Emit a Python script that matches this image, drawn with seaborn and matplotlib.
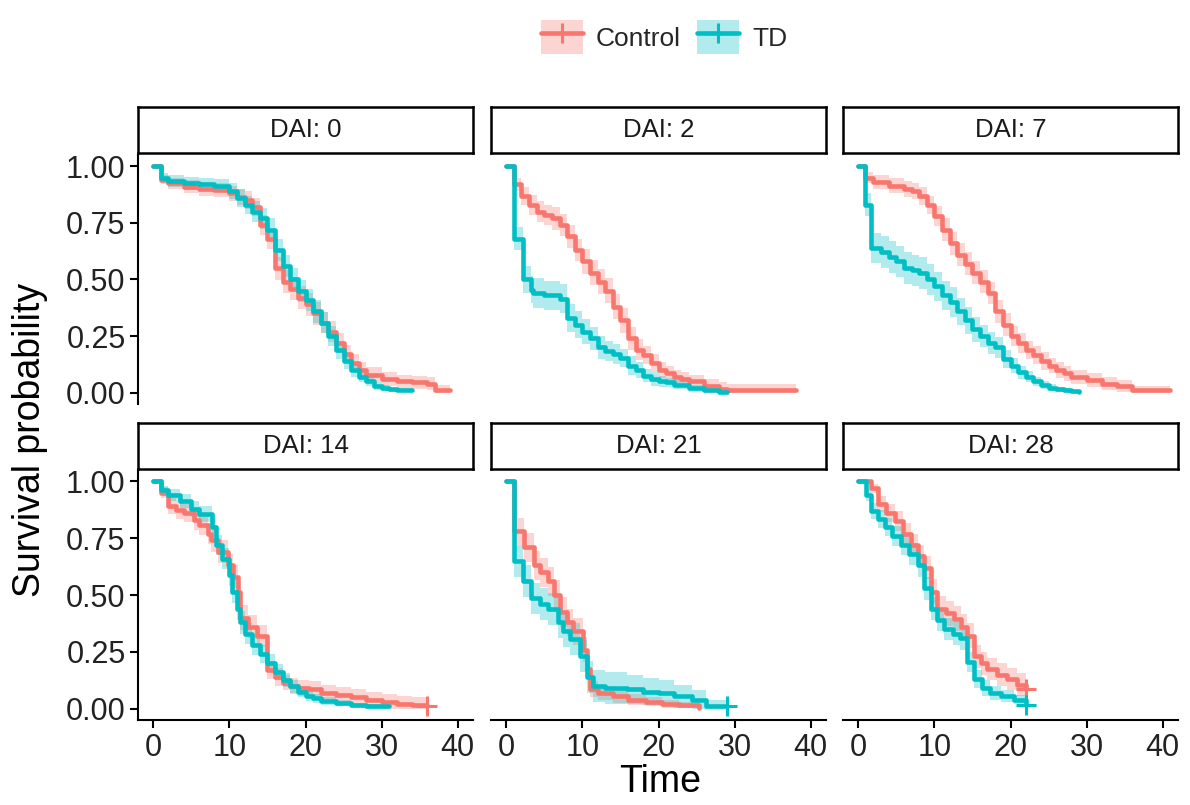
import numpy as np
import pandas as pd
import seaborn as sns
import matplotlib.pyplot as plt
from matplotlib.patches import Patch
from matplotlib.lines import Line2D
from matplotlib.legend_handler import HandlerTuple

sns.set_theme(style='white')
plt.rcParams['font.family'] = ['Liberation Sans', 'DejaVu Sans']

dai_levels = [0, 2, 7, 14, 21, 28]
groups = ['Control', 'TD']
colors = {'Control': '#F8766D', 'TD': '#00BFC4'}

# step curves: time, survival, half width of the band
control_time = {
    0: [0, 1, 2, 4, 6, 8, 10, 11, 12, 13, 14, 15, 16, 17, 18, 19, 20, 21, 22, 23, 24, 25, 26, 27, 28, 30, 32, 34, 36, 37, 39],
    2: [0, 1, 2, 3, 4, 5, 6, 7, 8, 9, 10, 11, 12, 13, 14, 15, 16, 17, 18, 19, 20, 21, 22, 23, 24, 26, 28, 29, 38],
    7: [0, 0.9, 2, 4, 6, 7, 8, 9, 10, 11, 12, 13, 14, 15, 16, 17, 18, 19, 20, 21, 22, 23, 24, 25, 26, 27, 28, 30, 32, 34, 36, 41],
    14: [0, 1, 2, 3, 4, 5.4, 6, 7.2, 7.6, 8.5, 9.8, 10.5, 11.1, 11.4, 12.5, 13.6, 14.9, 16, 17, 18, 19, 20.5, 22, 24, 26, 28, 30, 32, 34, 36],
    21: [0, 1, 2.3, 3.6, 4.5, 5.5, 6.3, 7.1, 8, 8.8, 10.1, 10.6, 11, 12, 14, 16, 18.4, 20.5, 22.7, 25.3],
    28: [0, 1.7, 2.6, 3.7, 4.8, 5.9, 6.9, 7.8, 8.7, 9.5, 10.4, 11.5, 12.6, 13.5, 14.3, 15.2, 16.1, 16.9, 18.2, 19.5, 20.8, 22.1],
}
control_surv = {
    0: [1.0, 0.94, 0.925, 0.91, 0.90, 0.895, 0.88, 0.865, 0.85, 0.82, 0.74, 0.68, 0.55, 0.49, 0.46, 0.42, 0.39, 0.35, 0.31, 0.27, 0.22, 0.17, 0.13, 0.10, 0.08, 0.06, 0.05, 0.045, 0.04, 0.013, 0.013],
    2: [1.0, 0.92, 0.87, 0.83, 0.80, 0.785, 0.77, 0.74, 0.69, 0.63, 0.58, 0.53, 0.49, 0.45, 0.38, 0.32, 0.24, 0.19, 0.165, 0.13, 0.10, 0.085, 0.07, 0.06, 0.05, 0.03, 0.015, 0.01, 0.01],
    7: [1.0, 0.95, 0.93, 0.915, 0.90, 0.89, 0.87, 0.83, 0.78, 0.72, 0.66, 0.61, 0.57, 0.53, 0.49, 0.44, 0.36, 0.30, 0.25, 0.22, 0.19, 0.165, 0.14, 0.12, 0.10, 0.085, 0.07, 0.055, 0.04, 0.03, 0.01, 0.01],
    14: [1.0, 0.95, 0.89, 0.875, 0.86, 0.83, 0.81, 0.77, 0.74, 0.69, 0.63, 0.58, 0.515, 0.40, 0.36, 0.32, 0.17, 0.14, 0.115, 0.10, 0.09, 0.085, 0.07, 0.06, 0.05, 0.04, 0.03, 0.02, 0.015, 0.01],
    21: [1.0, 0.78, 0.71, 0.63, 0.60, 0.56, 0.50, 0.425, 0.38, 0.34, 0.26, 0.175, 0.085, 0.07, 0.055, 0.04, 0.03, 0.022, 0.016, 0.005],
    28: [1.0, 0.97, 0.90, 0.86, 0.825, 0.77, 0.72, 0.67, 0.62, 0.515, 0.44, 0.42, 0.395, 0.36, 0.32, 0.23, 0.20, 0.175, 0.15, 0.13, 0.105, 0.085],
}
control_band = {
    0: [0, 0.02, 0.025, 0.03, 0.03, 0.03, 0.035, 0.035, 0.04, 0.04, 0.045, 0.045, 0.05, 0.05, 0.05, 0.05, 0.05, 0.05, 0.045, 0.045, 0.045, 0.04, 0.04, 0.035, 0.035, 0.03, 0.03, 0.03, 0.03, 0.02, 0.02],
    2: [0, 0.03, 0.04, 0.045, 0.045, 0.045, 0.05, 0.05, 0.05, 0.05, 0.055, 0.055, 0.055, 0.055, 0.055, 0.055, 0.05, 0.045, 0.04, 0.04, 0.035, 0.035, 0.03, 0.03, 0.03, 0.03, 0.03, 0.03, 0.03],
    7: [0, 0.025, 0.03, 0.035, 0.035, 0.035, 0.04, 0.04, 0.045, 0.05, 0.05, 0.05, 0.05, 0.05, 0.05, 0.05, 0.05, 0.05, 0.045, 0.045, 0.04, 0.04, 0.04, 0.035, 0.035, 0.035, 0.03, 0.03, 0.03, 0.025, 0.02, 0.02],
    14: [0, 0.025, 0.035, 0.04, 0.04, 0.045, 0.045, 0.045, 0.05, 0.05, 0.05, 0.05, 0.055, 0.055, 0.05, 0.05, 0.04, 0.04, 0.035, 0.035, 0.035, 0.035, 0.035, 0.035, 0.035, 0.035, 0.035, 0.035, 0.035, 0.035],
    21: [0, 0.06, 0.065, 0.065, 0.065, 0.065, 0.065, 0.065, 0.06, 0.06, 0.055, 0.05, 0.035, 0.03, 0.03, 0.025, 0.02, 0.018, 0.015, 0.01],
    28: [0, 0.02, 0.035, 0.04, 0.045, 0.045, 0.05, 0.05, 0.05, 0.055, 0.055, 0.055, 0.055, 0.055, 0.055, 0.05, 0.05, 0.05, 0.05, 0.05, 0.05, 0.05],
}

td_time = {
    0: [0, 1, 2, 4, 6, 8, 10, 11, 12, 13, 14, 15, 16, 17, 18, 19, 20, 21, 22, 23, 24, 25, 26, 27, 28, 29, 30, 31, 32, 34],
    2: [0, 1, 2.2, 3.2, 3.5, 5, 7, 8, 9, 10, 11, 12, 13, 14, 15, 16, 17, 18, 19, 20, 21, 22, 24, 26, 28, 29],
    7: [0, 0.9, 1.7, 3, 4, 5, 6, 7, 8, 9, 10, 11, 12, 13, 14, 15, 16, 17, 18, 19, 20, 21, 22, 23, 24, 25, 26, 27, 28, 29],
    14: [0, 1, 2, 3.5, 5, 6, 7.7, 8.2, 9, 10, 10.4, 11, 11.4, 12, 13, 14, 15, 16, 17, 18, 19, 20, 21, 22, 24, 26, 28, 31],
    21: [0, 1, 2.2, 3.2, 4.5, 5.5, 6.8, 7.5, 8.4, 9.7, 10.6, 11.4, 13, 15.8, 18, 20.1, 22, 24.4, 26.2, 29],
    28: [0, 1, 1.7, 2.6, 3.5, 4.5, 5.6, 6.7, 7.8, 8.7, 9.5, 10.4, 11.3, 12.4, 13.4, 14.3, 15.2, 16.2, 17.3, 18.8, 20.4, 22.1],
}
td_surv = {
    0: [1.0, 0.95, 0.935, 0.925, 0.92, 0.915, 0.89, 0.86, 0.83, 0.80, 0.77, 0.72, 0.63, 0.56, 0.50, 0.45, 0.41, 0.36, 0.31, 0.25, 0.19, 0.14, 0.10, 0.07, 0.05, 0.03, 0.02, 0.015, 0.012, 0.01],
    2: [1.0, 0.68, 0.50, 0.455, 0.44, 0.43, 0.415, 0.33, 0.30, 0.27, 0.24, 0.20, 0.185, 0.17, 0.155, 0.12, 0.10, 0.075, 0.06, 0.05, 0.045, 0.035, 0.02, 0.012, 0.005, 0.005],
    7: [1.0, 0.83, 0.64, 0.62, 0.60, 0.58, 0.55, 0.54, 0.53, 0.50, 0.47, 0.43, 0.40, 0.36, 0.32, 0.28, 0.25, 0.22, 0.20, 0.15, 0.12, 0.09, 0.07, 0.05, 0.035, 0.022, 0.015, 0.01, 0.006, 0.005],
    14: [1.0, 0.96, 0.94, 0.915, 0.88, 0.855, 0.80, 0.72, 0.66, 0.59, 0.515, 0.44, 0.38, 0.33, 0.28, 0.24, 0.20, 0.16, 0.125, 0.098, 0.075, 0.055, 0.045, 0.035, 0.025, 0.015, 0.01, 0.01],
    21: [1.0, 0.65, 0.56, 0.485, 0.46, 0.44, 0.38, 0.34, 0.305, 0.23, 0.14, 0.098, 0.09, 0.085, 0.075, 0.07, 0.055, 0.04, 0.01, 0.01],
    28: [1.0, 0.94, 0.87, 0.835, 0.80, 0.76, 0.72, 0.68, 0.63, 0.53, 0.44, 0.39, 0.35, 0.33, 0.31, 0.205, 0.13, 0.09, 0.07, 0.055, 0.04, 0.018],
}
td_band = {
    0: [0, 0.02, 0.025, 0.03, 0.03, 0.03, 0.035, 0.04, 0.04, 0.045, 0.045, 0.05, 0.05, 0.05, 0.05, 0.05, 0.05, 0.05, 0.045, 0.045, 0.04, 0.035, 0.03, 0.025, 0.02, 0.017, 0.013, 0.01, 0.01, 0.01],
    2: [0, 0.05, 0.06, 0.06, 0.065, 0.065, 0.065, 0.06, 0.06, 0.055, 0.05, 0.05, 0.045, 0.045, 0.04, 0.04, 0.035, 0.03, 0.03, 0.025, 0.02, 0.02, 0.015, 0.01, 0.008, 0.008],
    7: [0, 0.05, 0.065, 0.07, 0.07, 0.07, 0.07, 0.07, 0.07, 0.07, 0.065, 0.065, 0.065, 0.06, 0.06, 0.055, 0.05, 0.05, 0.045, 0.04, 0.035, 0.03, 0.025, 0.02, 0.018, 0.015, 0.012, 0.01, 0.008, 0.008],
    14: [0, 0.02, 0.025, 0.03, 0.035, 0.035, 0.04, 0.045, 0.045, 0.05, 0.05, 0.05, 0.05, 0.045, 0.045, 0.04, 0.04, 0.035, 0.03, 0.03, 0.025, 0.02, 0.02, 0.018, 0.015, 0.012, 0.01, 0.01],
    21: [0, 0.07, 0.07, 0.07, 0.07, 0.07, 0.07, 0.07, 0.07, 0.07, 0.07, 0.07, 0.07, 0.065, 0.06, 0.055, 0.05, 0.04, 0.03, 0.03],
    28: [0, 0.025, 0.035, 0.04, 0.04, 0.045, 0.045, 0.05, 0.05, 0.05, 0.05, 0.05, 0.05, 0.05, 0.05, 0.045, 0.04, 0.035, 0.03, 0.025, 0.02, 0.015],
}

# panels where the last time carries a censor "+"
control_censor = [14, 28]
td_censor = [21, 28]

curves = {
    'Control': (control_time, control_surv, control_band, control_censor),
    'TD': (td_time, td_surv, td_band, td_censor),
}

rows = []
for g in groups:
    t_d, s_d, b_d, _ = curves[g]
    for d in dai_levels:
        for t, s, b in zip(t_d[d], s_d[d], b_d[d]):
            rows.append({'DAI': d, 'group': g, 'time': t, 'surv': s, 'band': b})
df = pd.DataFrame(rows)

fig = plt.figure(figsize=(11.9, 8.05), dpi=100)
W, H = 1190, 805
lefts = [138, 491, 843]
panel_w = 335
tops = [155, 470]
panel_h = [249, 250]
strip_tops = [107, 423]
lw = 3.3

for i, d in enumerate(dai_levels):
    r, c = divmod(i, 3)
    ax = fig.add_axes([lefts[c] / W, 1 - (tops[r] + panel_h[r]) / H, panel_w / W, panel_h[r] / H])
    sub = df[df.DAI == d]
    for g in groups:
        gd = sub[sub.group == g]
        lo = np.clip(gd.surv - gd.band, 0, 1)
        hi = np.clip(gd.surv + gd.band, 0, 1)
        ax.fill_between(gd.time, lo, hi, step='post', color=colors[g], alpha=0.3, lw=0)
    sns.lineplot(data=sub, x='time', y='surv', hue='group', palette=colors, hue_order=groups,
                 estimator=None, drawstyle='steps-post', linewidth=lw, legend=False, ax=ax)
    for g in groups:
        if d in curves[g][3]:
            gd = sub[sub.group == g]
            ax.plot(gd.time.iloc[-1], gd.surv.iloc[-1], marker='+', color=colors[g],
                    markersize=15, mew=2.2)

    ax.set_xlim(-2, 42)
    ax.set_ylim(-0.05, 1.05)
    ax.set_xticks([0, 10, 20, 30, 40])
    ax.set_yticks([0, 0.25, 0.5, 0.75, 1.0])
    ax.set_yticklabels(['0.00', '0.25', '0.50', '0.75', '1.00'])
    ax.set_xlabel('')
    ax.set_ylabel('')
    for s in ['top', 'right']:
        ax.spines[s].set_visible(False)
    ax.spines['left'].set_visible(c == 0)
    ax.spines['bottom'].set_visible(r == 1)
    for s in ['left', 'bottom']:
        ax.spines[s].set_linewidth(1.5)
        ax.spines[s].set_color('black')
    ax.tick_params(axis='y', left=(c == 0), labelleft=(c == 0), length=6, width=1.5,
                   labelsize=22, pad=3, colors='black', labelcolor='#222222')
    ax.tick_params(axis='x', bottom=(r == 1), labelbottom=(r == 1), length=6, width=1.5,
                   labelsize=22, pad=3, colors='black', labelcolor='#222222')

    # strip
    sax = fig.add_axes([lefts[c] / W, 1 - (strip_tops[r] + 46) / H, panel_w / W, 46 / H])
    sax.set_xticks([])
    sax.set_yticks([])
    for s in sax.spines.values():
        s.set_linewidth(1.8)
        s.set_color('black')
    sax.text(0.5, 0.5, f'DAI: {d}', ha='center', va='center', fontsize=18.5,
             color='#1a1a1a', transform=sax.transAxes)

fig.text(660 / W, 1 - 782 / H, 'Time', ha='center', va='center', fontsize=27, color='black')
fig.text(30 / W, 1 - 440 / H, 'Survival probability', ha='center', va='center',
         rotation=90, fontsize=27, color='black')

handles = [(Patch(facecolor=colors[g], alpha=0.3, edgecolor='none'),
            Line2D([], [], color=colors[g], lw=lw, marker='+', markersize=15, mew=2.2))
           for g in groups]
fig.legend(handles, groups, loc='center', bbox_to_anchor=(664 / W, 1 - 37 / H), ncol=2,
           frameon=False, fontsize=19, handlelength=1.6, handleheight=1.6,
           handletextpad=0.5, columnspacing=0.6,
           handler_map={tuple: HandlerTuple(ndivide=1, pad=0)})

fig.savefig('out.png', dpi=100)
